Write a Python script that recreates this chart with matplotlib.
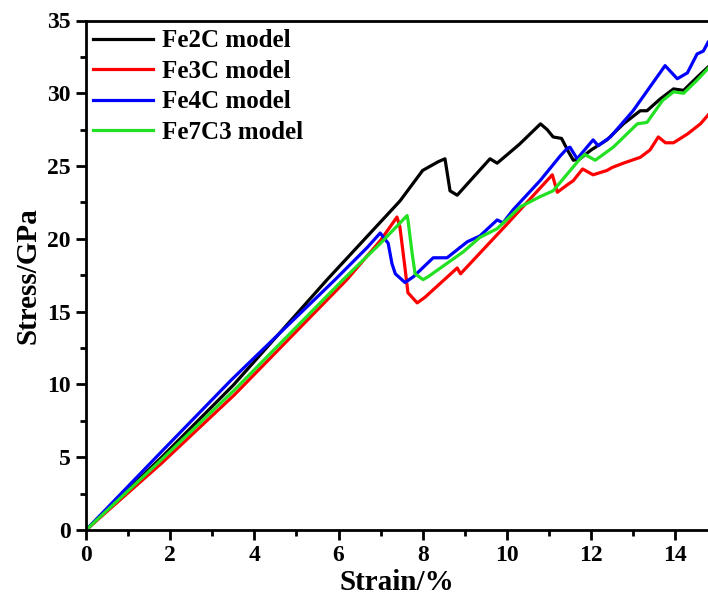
import numpy as np
import matplotlib
matplotlib.use("Agg")
import matplotlib.pyplot as plt
from matplotlib.ticker import MultipleLocator

plt.rcParams["font.family"] = ["Liberation Serif", "DejaVu Serif"]
plt.rcParams["font.weight"] = "bold"

# strain (%) / stress (GPa)
fe2c_x = [0, 1.8, 3.5, 5.73, 7.46, 8.0, 8.37, 8.53, 8.65, 8.82, 9.6, 9.77, 10.3, 10.8,
          10.96, 11.1, 11.3, 11.46, 11.58, 11.74, 12.0, 12.38, 12.77, 13.17, 13.33,
          13.64, 13.96, 14.2, 14.52, 14.78]
fe2c_y = [0, 5.0, 9.95, 17.2, 22.6, 24.7, 25.3, 25.5, 23.3, 23.0, 25.5, 25.2, 26.5, 27.9,
          27.5, 27.0, 26.9, 26.0, 25.4, 25.5, 26.1, 26.8, 27.9, 28.8, 28.8,
          29.6, 30.3, 30.2, 31.1, 31.8]

fe3c_x = [0, 1.8, 3.52, 6.2, 7.0, 7.39, 7.46, 7.58, 7.65, 7.87, 8.06, 8.82, 8.9, 10.0,
          11.08, 11.2, 11.43, 11.58, 11.8, 12.05, 12.38, 12.5, 12.77, 13.17, 13.4,
          13.6, 13.77, 13.96, 14.29, 14.6, 14.78]
fe3c_y = [0, 4.6, 9.27, 17.2, 19.9, 21.5, 20.8, 18.0, 16.3, 15.6, 16.0, 18.0, 17.6, 21.0,
          24.4, 23.2, 23.7, 24.0, 24.8, 24.4, 24.7, 24.9, 25.2, 25.6, 26.1,
          27.0, 26.6, 26.6, 27.2, 27.9, 28.5]

fe4c_x = [0, 1.8, 3.45, 5.92, 6.68, 6.99, 7.18, 7.27, 7.35, 7.58, 7.78, 8.25, 8.46, 8.58,
          9.06, 9.36, 9.77, 9.91, 10.15, 10.79, 11.27, 11.43, 11.5, 11.67, 12.05, 12.17,
          12.46, 13.0, 13.76, 14.05, 14.29, 14.52, 14.67, 14.78]
fe4c_y = [0, 5.4, 10.3, 17.2, 19.4, 20.4, 19.7, 18.3, 17.6, 17.0, 17.4, 18.7, 18.7, 18.7,
          19.8, 20.2, 21.3, 21.1, 22.0, 24.0, 25.7, 26.2, 26.3, 25.5, 26.8, 26.4,
          27.0, 28.8, 31.9, 31.0, 31.4, 32.7, 32.9, 33.5]

fe7c3_x = [0, 1.8, 3.52, 6.11, 7.0, 7.63, 7.65, 7.75, 7.82, 8.01, 8.13, 8.96, 9.36, 9.77,
           10.32, 10.79, 11.1, 11.74, 11.85, 12.1, 12.53, 13.1, 13.33, 13.7, 13.96,
           14.2, 14.52, 14.78]
fe7c3_y = [0, 4.85, 9.6, 17.2, 19.7, 21.6, 21.3, 19.0, 17.6, 17.2, 17.4, 19.1, 20.1, 20.7,
           22.2, 22.9, 23.3, 25.5, 25.8, 25.4, 26.3, 27.9, 28.0, 29.5, 30.1,
           30.0, 30.9, 31.7]

series = [
    ("Fe2C model", fe2c_x, fe2c_y, "black"),
    ("Fe3C model", fe3c_x, fe3c_y, "#ff0000"),
    ("Fe4C model", fe4c_x, fe4c_y, "#0000ff"),
    ("Fe7C3 model", fe7c3_x, fe7c3_y, "#22e022"),
]

fig = plt.figure(figsize=(7.08, 6.01), dpi=100)
ax = fig.add_axes([86 / 708, 71 / 601, 622 / 708, 509.5 / 601])

for name, x, y, c in series:
    ax.plot(x, y, color=c, lw=2.3, label=name)

ax.set_xlim(0, 14.78)
ax.set_ylim(0, 35)
ax.xaxis.set_major_locator(MultipleLocator(2))
ax.xaxis.set_minor_locator(MultipleLocator(1))
ax.yaxis.set_major_locator(MultipleLocator(5))
ax.yaxis.set_minor_locator(MultipleLocator(2.5))
ax.tick_params(which="major", direction="out", length=7, width=2, labelsize=17, pad=4)
ax.tick_params(which="minor", direction="out", length=4, width=2)
ax.spines["right"].set_visible(False)
for s in ["left", "bottom", "top"]:
    ax.spines[s].set_linewidth(2)
for lab in ax.get_xticklabels() + ax.get_yticklabels():
    lab.set_fontweight("bold")

ax.set_xlabel("Strain/%", fontsize=21, fontweight="bold", labelpad=2)
ax.set_ylabel("Stress/GPa", fontsize=21, fontweight="bold", labelpad=4)

ax.legend(loc="upper left", bbox_to_anchor=(7 / 622, 1 - 9 / 510), frameon=False,
          borderpad=0, borderaxespad=0, handlelength=2.4, handletextpad=0.36,
          labelspacing=0.3, prop={"size": 18, "weight": "bold"})

fig.savefig("out.png", dpi=100)
